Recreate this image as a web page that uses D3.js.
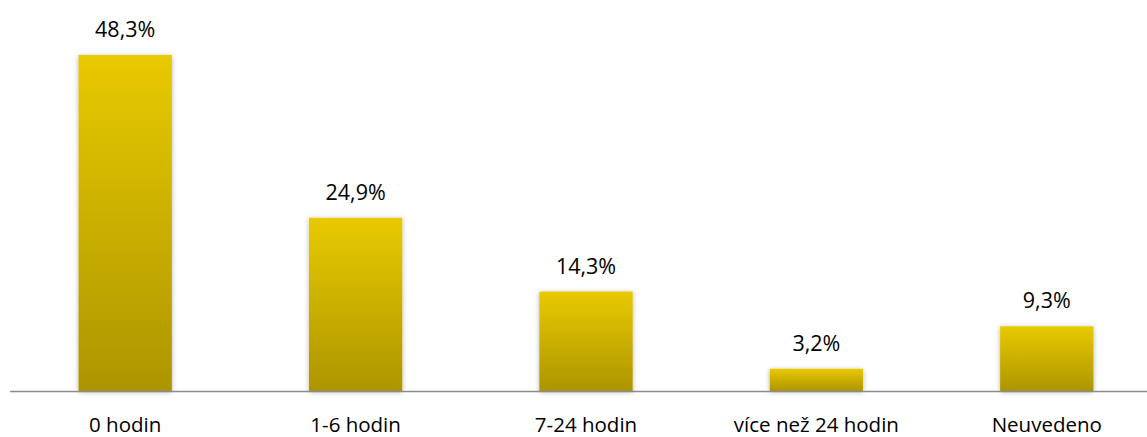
<!DOCTYPE html>
<html><head><meta charset="utf-8">
<script src="https://cdn.jsdelivr.net/npm/d3@7"></script>
<style>body{margin:0;background:#fff;} svg{display:block;}</style>
</head><body>
<svg id="chart" width="1147" height="437"></svg>
<script>
const categories = ["0 hodin", "1-6 hodin", "7-24 hodin", "více než 24 hodin", "Neuvedeno"];
const values = [48.3, 24.9, 14.3, 3.2, 9.3];
const valueLabels = ["48,3%", "24,9%", "14,3%", "3,2%", "9,3%"];

const svg = d3.select("#chart");
const W = 1147, H = 437;
const baseY = 391;
const x = d3.scaleBand().domain(categories).range([10, 1162]).paddingInner(0.595).paddingOuter(0.2975);
const y = d3.scaleLinear().domain([0, 48.3]).range([baseY, 55]);

const defs = svg.append("defs");
const g = defs.append("linearGradient").attr("id", "barGrad").attr("x1", 0).attr("y1", 0).attr("x2", 0).attr("y2", 1);
g.append("stop").attr("offset", "0%").attr("stop-color", "#E8CA00");
g.append("stop").attr("offset", "100%").attr("stop-color", "#AD9500");
const f = defs.append("filter").attr("id", "shadow").attr("x", "-20%").attr("y", "-20%").attr("width", "140%").attr("height", "140%");
f.append("feDropShadow").attr("dx", 0).attr("dy", 1).attr("stdDeviation", 2.5).attr("flood-color", "#000").attr("flood-opacity", 0.3);

svg.append("g").selectAll("rect").data(values).join("rect")
  .attr("x", (d, i) => x(categories[i]))
  .attr("width", x.bandwidth())
  .attr("y", d => y(d))
  .attr("height", d => baseY - y(d))
  .attr("fill", "url(#barGrad)")
  .attr("filter", "url(#shadow)");

svg.append("line").attr("x1", 10).attr("x2", W).attr("y1", baseY + 0.5).attr("y2", baseY + 0.5)
  .attr("stroke", "#8c8c8c").attr("stroke-width", 1.5);

const font = "'Open Sans', sans-serif";
svg.append("g").selectAll("text").data(values).join("text")
  .attr("x", (d, i) => x(categories[i]) + x.bandwidth() / 2)
  .attr("y", d => y(d) - 18)
  .attr("text-anchor", "middle")
  .attr("font-family", font).attr("font-size", 21.5).attr("fill", "#000")
  .text((d, i) => valueLabels[i]);

svg.append("g").selectAll("text").data(categories).join("text")
  .attr("x", d => x(d) + x.bandwidth() / 2)
  .attr("y", 432)
  .attr("text-anchor", "middle")
  .attr("font-family", font).attr("font-size", 20.5).attr("fill", "#000")
  .text(d => d);
</script>
</body></html>
